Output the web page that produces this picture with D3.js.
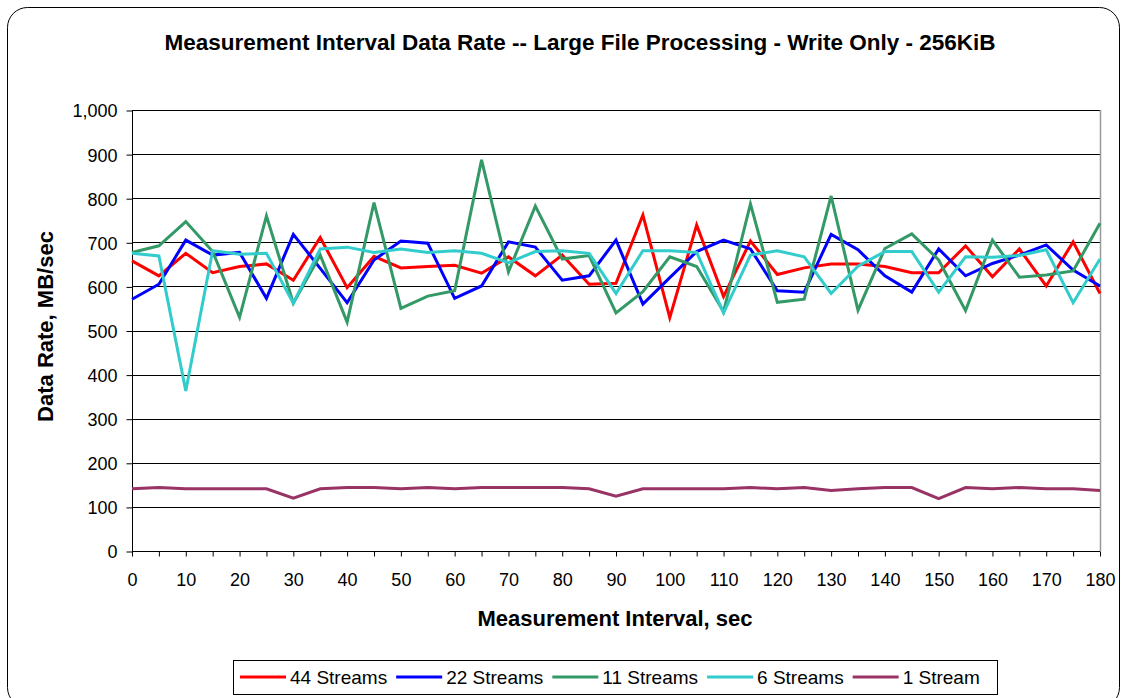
<!DOCTYPE html>
<html>
<head>
<meta charset="utf-8">
<script src="https://cdnjs.cloudflare.com/ajax/libs/d3/7.8.5/d3.min.js"></script>
<style>
  html, body { margin: 0; padding: 0; background: #fff; }
  svg text { font-family: "Liberation Sans", Arial, sans-serif; fill: #000; }
</style>
</head>
<body>
<div id="vis"></div>
<script>
// measurement intervals, sec
var intervals = d3.range(0, 181, 5);
var xTickLabels = d3.range(0, 181, 10);
var yTickValues = d3.range(0, 1001, 100);

var streams44 = [658, 624, 675, 631, 645, 651, 614, 711, 597, 668,
                 642, 645, 648, 630, 667, 624, 671, 605, 607, 762,
                 529, 739, 577, 703, 627, 642, 651, 651, 645, 631,
                 631, 692, 622, 685, 601, 701, 584];
var streams22 = [571, 605, 705, 671, 677, 573, 718, 641, 563, 660,
                 703, 698, 573, 601, 701, 689, 614, 624, 705, 560,
                 620, 679, 705, 685, 590, 587, 718, 683, 624, 587,
                 685, 624, 652, 671, 694, 637, 601];
var streams11 = [677, 692, 747, 679, 530, 760, 562, 671, 519, 790,
                 550, 578, 590, 887, 633, 782, 662, 670, 540, 588,
                 667, 645, 543, 787, 564, 571, 805, 546, 686, 719,
                 660, 545, 705, 621, 626, 635, 743];
var streams6  = [675, 669, 363, 681, 673, 675, 562, 685, 689, 677,
                 685, 677, 681, 675, 654, 679, 681, 675, 584, 681,
                 681, 677, 540, 671, 681, 667, 584, 646, 679, 679,
                 587, 667, 666, 670, 683, 563, 662];
var streams1  = [141, 144, 141, 141, 141, 141, 120, 141, 144, 144,
                 141, 144, 141, 144, 144, 144, 144, 141, 124, 141,
                 141, 141, 141, 144, 141, 144, 137, 141, 144, 144,
                 119, 144, 141, 144, 141, 141, 137];

var seriesNames  = ["44 Streams", "22 Streams", "11 Streams", "6 Streams", "1 Stream"];
var seriesColors = ["#ff0000", "#0000ff", "#339966", "#33cccc", "#993366"];
var seriesValues = [streams44, streams22, streams11, streams6, streams1];

var W = 1127, H = 698;
var plot = {left: 132, top: 110, right: 1100, bottom: 551};

var svg = d3.select("#vis").append("svg")
    .attr("width", W)
    .attr("height", H);

// outer frame
svg.append("rect")
    .attr("x", 7.5).attr("y", 7.5)
    .attr("width", 1112).attr("height", 700)
    .attr("rx", 20).attr("ry", 20)
    .attr("fill", "#fff")
    .attr("stroke", "#000")
    .attr("stroke-width", 1);

var x = d3.scaleLinear().domain([0, 180]).range([plot.left, plot.right]);
var y = d3.scaleLinear().domain([0, 1000]).range([plot.bottom, plot.top]);

// gridlines
svg.append("g").selectAll("line")
    .data(yTickValues.filter(function(d) { return d > 0; }))
    .join("line")
    .attr("x1", plot.left).attr("x2", plot.right)
    .attr("y1", function(d) { return Math.round(y(d)) + 0.5; })
    .attr("y2", function(d) { return Math.round(y(d)) + 0.5; })
    .attr("stroke", "#000")
    .attr("stroke-width", 1);

// right edge of plot area
svg.append("line")
    .attr("x1", plot.right + 0.5).attr("x2", plot.right + 0.5)
    .attr("y1", plot.top).attr("y2", plot.bottom)
    .attr("stroke", "#999").attr("stroke-width", 1.5);

// y axis
var yAxis = svg.append("g")
    .attr("transform", "translate(" + (plot.left + 0.5) + ",0.5)")
    .call(d3.axisLeft(y).tickValues(yTickValues).tickSize(6).tickPadding(9)
        .tickFormat(d3.format(",")));
yAxis.select(".domain").attr("stroke", "#000").attr("d", "M0," + plot.top + "V" + plot.bottom);
yAxis.selectAll("text").style("font-size", "18px")
    .attr("dy", "0.36em");

// x axis: ticks every 5, labels every 10
var xAxis = svg.append("g")
    .attr("transform", "translate(0," + (plot.bottom + 0.5) + ")")
    .call(d3.axisBottom(x).tickValues(intervals).tickSize(5).tickPadding(17)
        .tickFormat(function(d) { return xTickLabels.indexOf(d) >= 0 ? d : ""; }));
xAxis.select(".domain").attr("stroke", "#000").attr("d", "M" + plot.left + ",0H" + plot.right);
xAxis.selectAll("text").style("font-size", "18px");

// lines
var line = d3.line()
    .x(function(d, i) { return x(intervals[i]); })
    .y(function(d) { return y(d); });

svg.append("g").selectAll("path")
    .data(seriesValues)
    .join("path")
    .attr("d", line)
    .attr("fill", "none")
    .attr("stroke", function(d, i) { return seriesColors[i]; })
    .attr("stroke-width", 3)
    .attr("stroke-linejoin", "miter");

// title and axis labels
svg.append("text")
    .attr("x", 580).attr("y", 50)
    .attr("text-anchor", "middle")
    .style("font-size", "22.5px").style("font-weight", "bold")
    .text("Measurement Interval Data Rate -- Large File Processing - Write Only - 256KiB");

svg.append("text")
    .attr("x", 615).attr("y", 626)
    .attr("text-anchor", "middle")
    .style("font-size", "22px").style("font-weight", "bold")
    .text("Measurement Interval, sec");

svg.append("text")
    .attr("transform", "translate(53," + ((plot.top + plot.bottom) / 2 - 4) + ") rotate(-90)")
    .attr("text-anchor", "middle")
    .style("font-size", "22px").style("font-weight", "bold")
    .text("Data Rate, MB/sec");

// legend
var legend = svg.append("g");
legend.append("rect")
    .attr("x", 233.5).attr("y", 660.5)
    .attr("width", 764).attr("height", 34)
    .attr("fill", "#fff").attr("stroke", "#000");

var item = legend.selectAll("g.item")
    .data(seriesNames)
    .join("g")
    .attr("class", "item");
item.append("line")
    .attr("x1", 0).attr("x2", 46)
    .attr("stroke", function(d, i) { return seriesColors[i]; })
    .attr("stroke-width", 3);
item.append("text")
    .attr("x", 50).attr("dy", "0.36em")
    .style("font-size", "19px")
    .text(function(d) { return d; });

// lay out legend items one after another
var lx = 240;
item.each(function() {
    d3.select(this).attr("transform", "translate(" + lx + ",677)");
    lx += 50 + d3.select(this).select("text").node().getComputedTextLength() + 9;
});
</script>
</body>
</html>
